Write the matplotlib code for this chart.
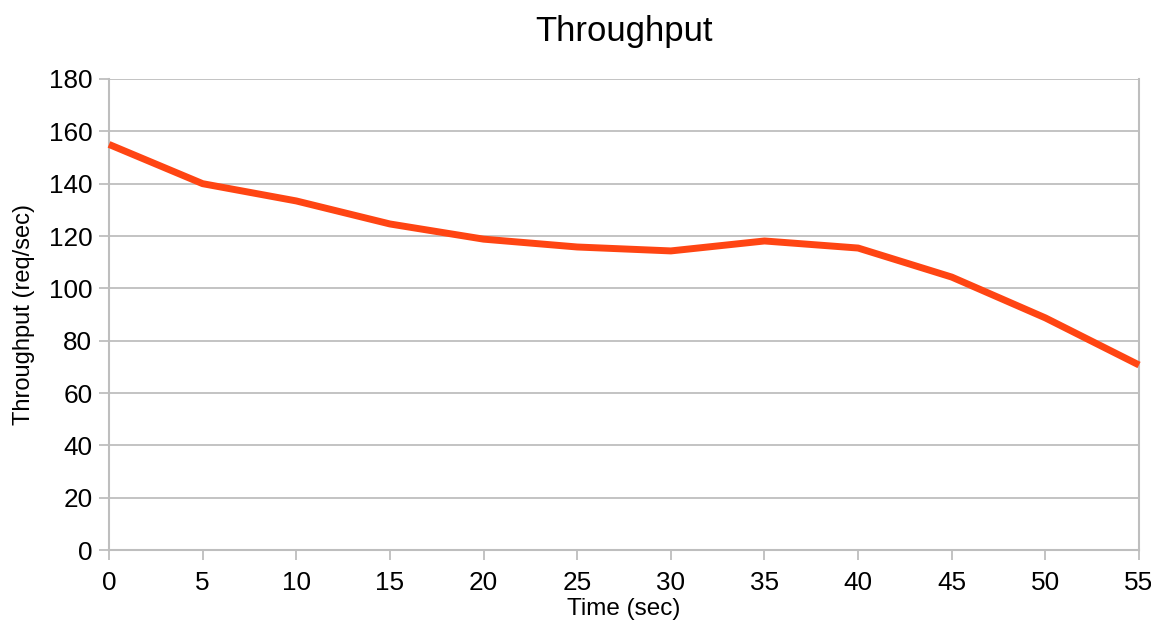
import matplotlib
matplotlib.use("Agg")
import matplotlib.pyplot as plt

# throughput samples taken every 5 seconds
time_sec = [0, 5, 10, 15, 20, 25, 30, 35, 40, 45, 50, 55]
throughput = [155, 140, 133.4, 124.6, 118.8, 115.8, 114.3, 118.1, 115.4, 104.3, 88.7, 70.7]

plt.rcParams['font.family'] = ['Liberation Sans', 'DejaVu Sans']

GRID = '#bebebe'

fig = plt.figure(figsize=(11.51, 6.33), dpi=100)
ax = fig.add_axes([0.0947, 0.1311, 0.8949, 0.7441])

ax.plot(time_sec, throughput, color='#ff4513', linewidth=5, solid_joinstyle='round',
        solid_capstyle='butt', clip_on=False, zorder=3)

ax.set_xlim(0, 55)
ax.set_ylim(0, 180)
ax.set_xticks(time_sec)
ax.set_yticks(range(0, 181, 20))
ax.yaxis.grid(True, color=GRID, linewidth=1.3)
ax.set_axisbelow(True)

for side in ['left', 'bottom', 'right']:
    ax.spines[side].set_color(GRID)
    ax.spines[side].set_linewidth(1.5)
ax.spines['top'].set_visible(False)

ax.tick_params(axis='both', colors=GRID, labelcolor='black', labelsize=18.8,
               length=7, width=1.3, direction='out')
ax.tick_params(axis='x', pad=8)
ax.tick_params(axis='y', pad=5)

ax.set_title('Throughput', fontsize=25, pad=27)
ax.set_xlabel('Time (sec)', fontsize=17.5, labelpad=2)
ax.set_ylabel('Throughput (req/sec)', fontsize=17, labelpad=10)

fig.savefig('out.png', dpi=100, facecolor='white')
